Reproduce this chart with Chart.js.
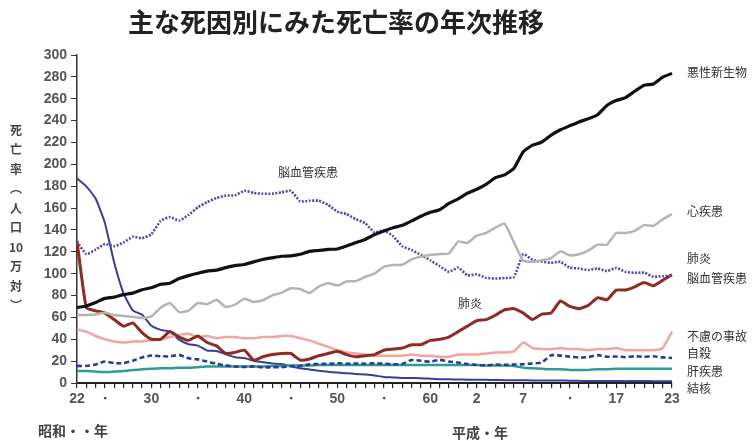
<!DOCTYPE html>
<html lang="ja">
<head>
<meta charset="UTF-8">
<title>主な死因別にみた死亡率の年次推移</title>
<script src="https://cdn.jsdelivr.net/npm/chart.js"></script>
<style>
  body { margin: 0; background: #fff; }
</style>
</head>
<body>
<canvas id="rateChart" width="752" height="441"></canvas>
<script>
// 年次 (昭和22年=1947 ～ 平成23年=2011)
const years = [1947,1948,1949,1950,1951,1952,1953,1954,1955,1956,1957,1958,1959,1960,1961,1962,
  1963,1964,1965,1966,1967,1968,1969,1970,1971,1972,1973,1974,1975,1976,1977,1978,1979,1980,
  1981,1982,1983,1984,1985,1986,1987,1988,1989,1990,1991,1992,1993,1994,1995,1996,1997,1998,
  1999,2000,2001,2002,2003,2004,2005,2006,2007,2008,2009,2010,2011];

// 目盛りラベル
const tickYears = [1947, 1950, 1955, 1960, 1965, 1970, 1975, 1980, 1985, 1990, 1995, 2000, 2005, 2011];
const tickText  = ['22', '・', '30', '・', '40', '・', '50', '・', '60', '2', '7', '・', '17', '23'];

// 死亡率（人口10万対）
const malignant = [69.0,70.4,73.6,77.4,78.5,80.8,82.2,85.3,87.1,90.3,91.3,95.5,98.2,100.4,102.3,103.2,
  105.5,107.3,108.4,110.8,113.0,114.5,115.9,116.3,117.7,120.4,121.2,122.2,122.6,125.3,128.4,131.3,135.7,139.1,
  142.0,144.2,148.3,152.5,156.1,158.5,164.2,168.4,173.6,177.2,181.7,187.8,190.4,196.4,211.6,217.5,220.4,226.7,
  231.6,235.2,238.8,241.7,245.4,253.9,258.3,261.0,266.9,272.3,273.5,279.7,283.2];

const heart = [62.2,62.3,62.7,64.2,62.2,61.3,60.5,59.5,60.9,68.9,73.1,64.8,66.3,73.2,72.1,76.1,
  69.6,71.7,77.0,74.2,75.7,80.2,82.5,86.7,85.9,82.3,88.2,91.3,89.2,92.8,93.2,97.2,100.1,106.2,
  107.9,108.1,113.1,115.6,117.3,117.9,118.4,129.4,128.1,134.8,137.2,142.2,145.6,128.6,112.0,110.8,112.2,114.3,
  120.4,116.8,117.8,121.0,126.5,126.5,137.2,137.2,139.2,144.4,143.7,149.8,154.5];

const pneumonia = [130,69,66,64,58,52,55,46,40,40,47,42,39,43,37,34,
  27,28,30,21,24,26,27,27,21,22,25,27,29,26,24,25,26,30,
  31,32,35,35,39,40,42,47,52,57,58,62,67,68,64,58,63,64,
  75,70,68,71,78,76,85,85,88,92,89,94,99];

const cerebro = [129.4,117.9,122.0,127.1,125.2,128.5,133.7,132.4,136.1,148.4,151.7,148.6,153.7,160.7,165.4,169.2,
  171.4,171.7,175.8,173.8,173.1,173.2,174.4,175.8,166.1,166.7,166.7,163.0,156.7,154.5,149.8,146.2,137.7,139.5,
  134.3,125.0,121.6,117.2,112.2,106.9,101.7,105.5,98.5,99.4,96.2,95.6,96.0,96.9,117.9,112.6,111.0,110.0,
  110.8,105.5,104.7,103.4,104.7,102.3,105.3,101.7,100.8,100.9,97.2,97.7,98.2];

const accident = [49,47,43,40,38,37,38,38,39,40,42,44,45,42,43,41,
  42,42,41,41,42,42,43,43,41,39,36,33,30,28,27,26,25,25,
  25,25,26,25,25,24,24,26,26,26,27,28,28,29,37,32,31,31,
  32,31,31,30,31,31,32,30,30,30,30,32,47];

const suicide = [15.7,15.6,16.9,19.6,18.2,18.2,20.4,23.4,25.2,24.5,24.3,25.7,22.7,21.6,19.6,17.5,
  16.1,15.1,14.7,15.2,14.2,14.5,14.5,15.3,15.6,17.0,17.4,17.5,18.0,17.6,17.9,17.6,18.0,17.7,
  17.1,17.5,21.0,20.4,19.4,21.2,19.6,18.7,17.3,16.4,16.1,16.9,16.6,16.9,17.2,17.8,18.8,25.4,
  25.0,24.1,23.3,23.8,25.5,24.0,24.2,23.7,24.4,24.0,24.4,23.4,22.9];

const liver = [11,11,10.5,10,10.5,11,12,12.5,13,13.5,13.5,14,14,14.5,15,15,
  15,15,15,15,15,15.5,15.5,16,16,16,16.5,16.5,16.5,16.5,16.5,16.5,16.5,16.5,
  16.5,16.5,16.5,16.5,16.5,16.5,16.5,16.5,16.5,16.5,16,16,16,15.5,14,13.5,13,12.5,
  12.5,12,12,12,12.5,12.5,13,13,13,13,13,13,13];

const tuberculosis = [187.2,179.9,168.8,146.4,110.3,82.2,66.5,62.4,52.3,48.6,46.9,39.4,35.5,34.2,29.6,29.3,
  26.3,23.6,22.8,20.3,19.0,17.8,17.3,15.4,13.4,12.4,11.1,10.3,9.5,8.9,8.3,7.7,6.9,5.5,
  5.1,4.6,4.5,4.4,3.9,3.4,3.4,3.2,3.0,3.0,2.9,2.8,2.6,2.6,2.6,2.3,2.2,2.2,
  2.3,2.1,2.0,1.8,1.9,1.8,1.8,1.7,1.8,1.8,1.7,1.7,1.7];

const jp = '"Noto Sans CJK JP", "Noto Sans", sans-serif';
const num = '"Liberation Sans", Arial, sans-serif';

// 右側の凡例ラベルとグラフ内ラベル
const sideLabels = [
  ['悪性新生物', 72], ['心疾患', 211], ['肺炎', 258], ['脳血管疾患', 278],
  ['不慮の事故', 336], ['自殺', 353], ['肝疾患', 371], ['結核', 388]
];

const textPlugin = {
  id: 'texts',
  afterDraw(chart) {
    const ctx = chart.ctx;
    ctx.save();
    ctx.fillStyle = '#222';
    ctx.textBaseline = 'middle';

    // タイトル
    ctx.font = 'bold 26px ' + jp;
    ctx.textAlign = 'center';
    ctx.fillText('主な死因別にみた死亡率の年次推移', 336, 22);

    // 縦書きの軸タイトル
    ctx.fillStyle = '#444';
    ctx.font = 'bold 12px ' + jp;
    const vChars = ['死', '亡', '率', '︵', '人', '口', '10', '万', '対', '︶'];
    vChars.forEach((c, i) => ctx.fillText(c, 16, 130 + i * 19.5));

    // 右側ラベル
    ctx.fillStyle = '#333';
    ctx.font = '12px ' + jp;
    ctx.textAlign = 'left';
    sideLabels.forEach(([t, y]) => ctx.fillText(t, 687, y));

    // グラフ内ラベル
    ctx.textAlign = 'center';
    ctx.fillText('脳血管疾患', 308, 172);
    ctx.fillText('肺炎', 470, 303);

    // 元号
    ctx.fillStyle = '#444';
    ctx.font = 'bold 14px ' + jp;
    ctx.textAlign = 'left';
    ctx.fillText('昭和・・年', 38, 431);
    ctx.fillText('平成・年', 452, 433);
    ctx.restore();
  }
};

new Chart(document.getElementById('rateChart'), {
  type: 'line',
  data: {
    labels: years,
    datasets: [
      { label: '悪性新生物', data: malignant, borderColor: '#111', borderWidth: 3.2 },
      { label: '心疾患', data: heart, borderColor: '#b4b4b4', borderWidth: 2.5 },
      { label: '脳血管疾患', data: cerebro, borderColor: '#4a4aa8', borderWidth: 2.6, borderDash: [2, 1.5] },
      { label: '肺炎', data: pneumonia, borderColor: '#8e2b22', borderWidth: 3 },
      { label: '不慮の事故', data: accident, borderColor: '#f2a4a0', borderWidth: 2.5 },
      { label: '自殺', data: suicide, borderColor: '#2d3b96', borderWidth: 2.6, borderDash: [5, 3] },
      { label: '肝疾患', data: liver, borderColor: '#2f9c92', borderWidth: 2.5 },
      { label: '結核', data: tuberculosis, borderColor: '#3a3c9c', borderWidth: 2 }
    ]
  },
  options: {
    responsive: false,
    animation: false,
    layout: { padding: { left: 23, right: 80, top: 55, bottom: 28 } },
    elements: { point: { radius: 0 }, line: { tension: 0.15 } },
    plugins: { legend: { display: false }, tooltip: { enabled: false } },
    scales: {
      x: {
        offset: false,
        grid: { drawOnChartArea: false, tickLength: 5, color: '#222', lineWidth: 1.2 },
        border: { color: '#222', width: 2 },
        ticks: {
          autoSkip: false,
          maxRotation: 0,
          padding: 3,
          color: '#555',
          font: { family: num, size: 14, weight: 'bold' },
          callback: (v, i) => {
            const k = tickYears.indexOf(years[i]);
            return k >= 0 ? tickText[k] : '';
          }
        },
        afterFit: s => { s.height = 30; }
      },
      y: {
        min: 0,
        max: 300,
        grid: { drawOnChartArea: false, tickLength: 6, color: '#333' },
        border: { color: '#333', width: 1.5 },
        ticks: {
          stepSize: 20,
          padding: 4,
          color: '#555',
          font: { family: num, size: 14, weight: 'bold' }
        },
        afterFit: s => { s.width = 54; }
      }
    }
  },
  plugins: [textPlugin]
});
</script>
</body>
</html>
